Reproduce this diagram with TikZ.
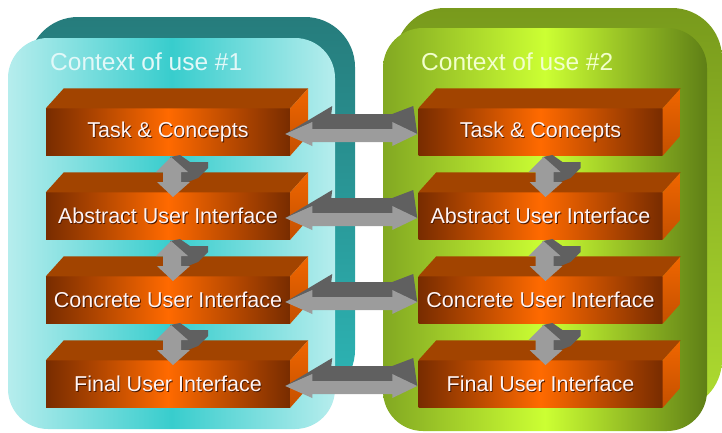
\documentclass[tikz,border=0pt]{standalone}
\usepackage{fontspec}
\setmainfont{Liberation Sans}
\usetikzlibrary{calc}

\definecolor{cyanBack}{HTML}{267C7C}
\definecolor{cyanSide}{HTML}{2DB6B6}
\definecolor{cyanEdge}{HTML}{B6EDED}
\definecolor{cyanMid}{HTML}{38CDCD}
\definecolor{limeBack}{HTML}{789A1C}
\definecolor{limeSide}{HTML}{AEDC30}
\definecolor{limeEdgeL}{HTML}{82A822}
\definecolor{limeEdgeR}{HTML}{5F7F16}
\definecolor{limeMid}{HTML}{CCFF33}
\definecolor{barEdge}{HTML}{782C00}
\definecolor{barMid}{HTML}{FF6A00}
\definecolor{barTop}{HTML}{A24400}
\definecolor{barSideA}{HTML}{F06600}
\definecolor{barSideB}{HTML}{C45000}
\definecolor{barText}{HTML}{FFF4F4}
\definecolor{textShadow}{HTML}{4A1800}
\definecolor{linkDark}{HTML}{606060}
\definecolor{linkLight}{HTML}{9C9C9C}

% white label with a small dark drop shadow
\newcommand{\shadowed}[1]{\rlap{\kern0.9pt\raisebox{-0.9pt}{\color{textShadow}#1}}#1}

\begin{document}
\begin{tikzpicture}[x=1pt, y=-1pt,
    bar/.style={minimum width=244pt, minimum height=47pt, inner sep=0pt,
        left color=barEdge, right color=barEdge, middle color=barMid,
        text=barText, font=\fontsize{21.5}{24}\selectfont},
    bartop/.style={fill=barTop},
    barside/.style={top color=barSideA, bottom color=barSideB},
    title/.style={anchor=west, inner sep=0pt, font=\fontsize{24.5}{28}\selectfont},
    linkdark/.style={fill=linkDark},
    linklight/.style={fill=linkLight}]

    \useasboundingbox (0,0) rectangle (722,432);

    % Context boxes
    \path[rounded corners=50pt, top color=cyanBack, bottom color=cyanSide] (28,17) rectangle (355,400);
    \path[rounded corners=40pt, left color=cyanEdge, right color=cyanEdge, middle color=cyanMid] (8,38) rectangle (335,429);
    \path[rounded corners=50pt, top color=limeBack, bottom color=limeSide] (395,8) rectangle (722,410);
    \path[rounded corners=40pt, left color=limeEdgeL, right color=limeEdgeR, middle color=limeMid] (383,28) rectangle (707,431);

    % Titles
    \node[title, text=cyanEdge!40!white] (ctx1) at (50,62) {Context of use \#1};
    \node[title, text=limeMid!25!white] (ctx2) at (421,62) {Context of use \#2};

    % Levels
    \node[bar] (task1) at (168,132) {\shadowed{Task \& Concepts}};
    \node[bar] (abs1)  at (168,216) {\shadowed{Abstract User Interface}};
    \node[bar] (conc1) at (168,300) {\shadowed{Concrete User Interface}};
    \node[bar] (fin1)  at (168,384) {\shadowed{Final User Interface}};

    \node[bar] (task2) at (540.5,132) {\shadowed{Task \& Concepts}};
    \node[bar] (abs2)  at (540.5,216) {\shadowed{Abstract User Interface}};
    \node[bar] (conc2) at (540.5,300) {\shadowed{Concrete User Interface}};
    \node[bar] (fin2)  at (540.5,384) {\shadowed{Final User Interface}};

    % Top and side of each level
    \foreach \b in {task1,abs1,conc1,fin1,task2,abs2,conc2,fin2} {
        \fill[bartop] (\b.north west) -- ++(18,-20) -- ($(\b.north east)+(18,-20)$) -- (\b.north east) -- cycle;
        \path[barside] (\b.north east) -- ++(18,-20) -- ++(0,47) -- (\b.south east) -- cycle;
    }

    % Links down each context
    \foreach \a/\b in {task1/abs1, abs1/conc1, conc1/fin1, task2/abs2, abs2/conc2, conc2/fin2} {
        \begin{scope}[shift={($(\a.south)!0.5!(\b.north)$)}]
            \fill[linkdark] (2,-17) -- (12,-19) -- (22,-12) -- (40,-12) -- (40,-6) -- (30,4) -- (20,8) -- (4,8) -- cycle;
            \fill[linklight] (3,-17) -- (20,-2) -- (13,-2) -- (13,8) -- (22,8) -- (5,23)
                -- (-11,8) -- (-5,8) -- (-5,-2) -- (-12,-2) -- cycle;
        \end{scope}
    }

    % Links between the contexts
    \foreach \a/\b in {task1/task2, abs1/abs2, conc1/conc2, fin1/fin2} {
        \begin{scope}[shift={($(\a.east)!0.5!(\b.west)$)}]
            \fill[linkdark] (-69,2) -- (-22,-26) -- (-23,-18) -- (38,-18) -- (59,-26) -- (63,2) -- cycle;
            \fill[linklight] (-69,2) -- (-42,-10) -- (-42,-3) -- (38,-3) -- (38,-10) -- (63,2)
                -- (38,14) -- (38,10) -- (-42,10) -- (-42,14) -- cycle;
        \end{scope}
    }

\end{tikzpicture}
\end{document}
